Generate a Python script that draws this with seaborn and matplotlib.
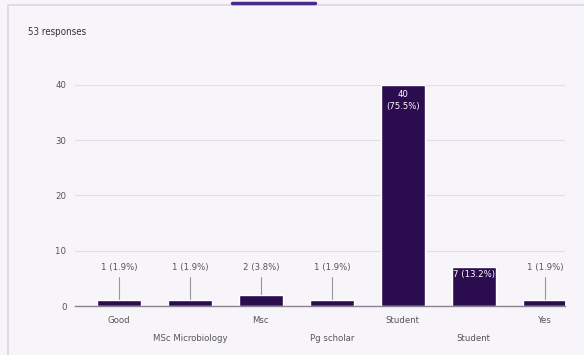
import matplotlib
matplotlib.use('Agg')
import pandas as pd
import matplotlib.pyplot as plt
import seaborn as sns

# Chart data
categories = ['Good', 'MSc Microbiology', 'Msc', 'Pg scholar', 'Student', 'Student', 'Yes']
counts = [1, 1, 2, 1, 40, 7, 1]
percents = ['1.9%', '1.9%', '3.8%', '1.9%', '75.5%', '13.2%', '1.9%']
y_ticks = [0, 10, 20, 30, 40]
total_label = '53 responses'

bar_color = '#2b0d4f'
bg_color = '#f7f5f9'
text_color = '#555555'

sns.set_style('white')
plt.rcParams['font.family'] = ['DejaVu Sans']
plt.rcParams['font.stretch'] = 'condensed'
fs = 6.8

data = pd.DataFrame({'pos': list(range(len(categories))), 'count': counts})

fig = plt.figure(figsize=(5.84, 3.55), dpi=100, facecolor=bg_color)
ax = fig.add_axes([0.128, 0.138, 0.839, 0.623])
ax.set_facecolor(bg_color)

sns.barplot(ax=ax, data=data, x='pos', y='count', color=bar_color,
            width=0.62, saturation=1, zorder=3)

ax.set_ylim(0, 40)
ax.set_xlim(-0.62, 6.28)
ax.set_yticks(y_ticks)
ax.set_yticklabels([str(t) for t in y_ticks], fontsize=fs, color=text_color)
ax.yaxis.grid(True, color='#e2dde6', linewidth=0.8, zorder=0)
ax.tick_params(axis='y', length=0, pad=6)
ax.tick_params(axis='x', length=0)
for s in ['top', 'right', 'left']:
    ax.spines[s].set_visible(False)
ax.spines['bottom'].set_color('#8a8490')
ax.spines['bottom'].set_linewidth(1.0)
ax.spines['bottom'].set_zorder(4)

# Alternating x labels
ax.set_xticks(range(len(categories)))
ax.set_xticklabels([''] * len(categories))
for i, name in enumerate(categories):
    yoff = -0.065 if i % 2 == 0 else -0.145
    ax.text(i, yoff, name, transform=ax.get_xaxis_transform(), ha='center',
            va='center', fontsize=fs, color=text_color)
ax.set_xlabel('')
ax.set_ylabel('')

# Value labels
for i, (c, p) in enumerate(zip(counts, percents)):
    if c >= 30:
        ax.text(i, c - 1.0, f'{c}\n({p})', ha='center', va='top', fontsize=fs,
                color='white', zorder=5, linespacing=1.4)
    elif c >= 5:
        ax.text(i, c - 1.3, f'{c} ({p})', ha='center', va='center', fontsize=fs,
                color='white', zorder=5)
    else:
        ax.plot([i, i], [c, 5.2], color='#9a94a0', linewidth=0.8, zorder=2)
        ax.text(i, 6.1, f'{c} ({p})', ha='center', va='bottom', fontsize=fs,
                color=text_color, zorder=5)

fig.text(0.048, 0.91, total_label, fontsize=fs + 0.2, color='#333333', ha='left', va='center')

# Card frame and tab indicator
fig.add_artist(plt.Line2D([0.014, 0.014], [0.0, 0.985], color='#ddd5e2', linewidth=1.2))
fig.add_artist(plt.Line2D([0.014, 1.0], [0.985, 0.985], color='#ddd5e2', linewidth=1.2))
fig.add_artist(plt.Line2D([0.397, 0.54], [0.992, 0.992], color='#4a2a8a', linewidth=2.5))

plt.savefig('out.png', dpi=100, facecolor=bg_color)
